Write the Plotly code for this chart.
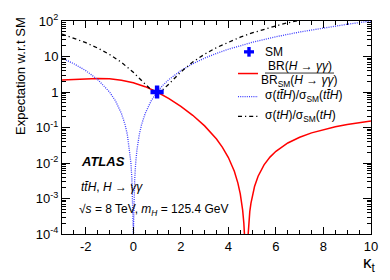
import plotly.graph_objects as go

# ---------------- data ----------------
kt_br = [-3, -2.5, -2, -1.5, -1, -0.5, 0, 0.5, 1, 1.5, 2, 2.5, 3, 3.5, 3.75, 4, 4.25, 4.4, 4.5,
         4.55, 4.6, 4.65, 4.7, 4.8, 4.85, 4.9, 4.95, 5, 5.1, 5.25, 5.5, 5.75, 6, 6.5, 7, 7.5,
         8, 8.5, 9, 9.5, 10]
br_ratio = [2.18, 2.293, 2.382, 2.415, 2.351, 2.154, 1.823, 1.411, 1.0, 0.653, 0.3954, 0.2209,
            0.1111, 0.0473, 0.0277, 0.01429, 0.005834, 0.00272, 0.001343, 0.000846, 0.000468,
            0.0002047, 0.0000504, 0.0000488, 0.000192, 0.000425, 0.000745, 0.001145, 0.002177,
            0.004245, 0.00887, 0.01467, 0.02137, 0.0366, 0.05325, 0.07048, 0.08775, 0.1047,
            0.1211, 0.137, 0.1522]

kt_tth = [-3, -2.5, -2, -1.5, -1, -0.75, -0.5, -0.35, -0.25, -0.15, -0.1, -0.06, -0.03, -0.015,
          -0.008, 0.008, 0.015, 0.03, 0.06, 0.1, 0.15, 0.25, 0.35, 0.5, 0.75, 1, 1.25, 1.5, 1.75,
          2, 2.5, 3, 3.5, 4, 5, 6, 7, 8, 9, 10]
tth_ratio = [9, 6.25, 4, 2.25, 1, 0.5625, 0.25, 0.1225, 0.0625, 0.0225, 0.01, 0.0036, 0.0009,
             0.000225, 0.000064, 0.000064, 0.000225, 0.0009, 0.0036, 0.01, 0.0225, 0.0625,
             0.1225, 0.25, 0.5625, 1, 1.5625, 2.25, 3.0625, 4, 6.25, 9, 12.25, 16, 25, 36, 49,
             64, 81, 100]

kt_th = [-3, -2.5, -2, -1.5, -1, -0.5, -0.25, 0, 0.25, 0.5, 0.75, 1, 1.25, 1.5, 1.75, 2, 2.5,
         3, 3.5, 4, 4.5, 5, 5.5, 6, 6.5, 7, 7.5]
th_ratio = [42.88, 33.05, 24.52, 17.32, 11.42, 6.85, 5.05, 3.58, 2.44, 1.63, 1.15, 1.00, 1.18,
            1.68, 2.52, 3.68, 6.99, 11.62, 17.8, 25.5, 35.0, 46.0, 58.5, 73.0, 89.0, 106.0,
            124.0]

sm_kt = [1]
sm_val = [1]

x_tickvals = [-2, 0, 2, 4, 6, 8, 10]
x_ticktext = ["-2", "0", "2", "4", "6", "8", "10"]
y_tickvals = [1e-4, 1e-3, 1e-2, 1e-1, 1, 10, 100]
y_ticktext = ["10<sup>-4</sup>", "10<sup>-3</sup>", "10<sup>-2</sup>", "10<sup>-1</sup>",
              "1", "10", "10<sup>2</sup>"]
y_minor = [k * 10.0 ** d for d in range(-4, 2) for k in range(2, 10)]

# ---------------- layout helpers ----------------
W, H = 390, 280
L, R, T, B = 62, 19, 13, 46
PW, PH = W - L - R, H - T - B


def px(x):
    return (x - L) / PW


def py(y):
    return (H - B - y) / PH


FONT = "Liberation Sans, Arial, sans-serif"
BLUE_DOT = dict(color="#3b3bff", width=1.3, dash="1px,1.2px")
BLACK_DD = dict(color="black", width=1.3, dash="4px,3px,1.2px,3px")

fig = go.Figure()
fig.add_trace(go.Scatter(x=kt_br, y=br_ratio, mode="lines",
                         line=dict(color="#ff0000", width=1.5), showlegend=False))
fig.add_trace(go.Scatter(x=kt_tth, y=tth_ratio, mode="lines",
                         line=BLUE_DOT, showlegend=False))
fig.add_trace(go.Scatter(x=kt_th, y=th_ratio, mode="lines",
                         line=BLACK_DD, showlegend=False))
fig.add_trace(go.Scatter(x=sm_kt, y=sm_val, mode="markers",
                         marker=dict(symbol="cross", size=11, color="#0000ff",
                                     line=dict(width=0)), showlegend=False))

shapes = []
# legend: SM cross
shapes.append(dict(type="rect", xref="paper", yref="paper", x0=px(244), x1=px(254),
                   y0=py(46.7), y1=py(43.3), fillcolor="#0000ff", line=dict(width=0)))
shapes.append(dict(type="rect", xref="paper", yref="paper", x0=px(247.3), x1=px(250.7),
                   y0=py(50), y1=py(40), fillcolor="#0000ff", line=dict(width=0)))
# legend lines
shapes.append(dict(type="line", xref="paper", yref="paper", x0=px(238), x1=px(258),
                   y0=py(67.5), y1=py(67.5), line=dict(color="#ff0000", width=1.5)))
shapes.append(dict(type="line", xref="paper", yref="paper", x0=px(238), x1=px(258),
                   y0=py(91.5), y1=py(91.5), line=BLUE_DOT))
shapes.append(dict(type="line", xref="paper", yref="paper", x0=px(238), x1=px(258),
                   y0=py(112), y1=py(112), line=BLACK_DD))
# fraction bar
shapes.append(dict(type="line", xref="paper", yref="paper", x0=px(265), x1=px(334),
                   y0=py(67), y1=py(67), line=dict(color="black", width=0.8)))

ann = []


def text(x, y, s, size=12, xanchor="left", **kw):
    ann.append(dict(x=px(x), y=py(y), xref="paper", yref="paper", text=s, showarrow=False,
                    xanchor=xanchor, yanchor="middle", font=dict(family=FONT, size=size,
                                                                  color="black"), **kw))


text(263, 45, "SM")
text(299.5, 59.5, "BR(<i>H</i> → <i>γγ</i>)", xanchor="center")
text(299.5, 75, "BR<sub>SM</sub>(<i>H</i> → <i>γγ</i>)", xanchor="center")
text(263, 91, "σ(<i>tt\u0304H</i>)/σ<sub>SM</sub>(<i>tt\u0304H</i>)")
text(263, 112, "σ(<i>tH</i>)/σ<sub>SM</sub>(<i>tH</i>)")
text(79, 159, "<b><i>ATLAS</i></b>", size=13)
text(79, 185, "<i>tt\u0304H</i>, <i>H</i> → <i>γγ</i>")
text(77, 209, "√<i>s</i> = 8 TeV, <i>m<sub>H</sub></i> = 125.4 GeV")
text(369, 265, "κ<sub>t</sub>", size=17, xanchor="center")
text(21, 70, "Expectation w.r.t SM", size=13, xanchor="center", textangle=-90)

fig.update_layout(
    width=W, height=H, margin=dict(l=L, r=R, t=T, b=B),
    paper_bgcolor="white", plot_bgcolor="white",
    font=dict(family=FONT, size=12, color="black"),
    shapes=shapes, annotations=ann, showlegend=False,
    xaxis=dict(range=[-3, 10], tickmode="array", tickvals=x_tickvals, ticktext=x_ticktext,
               ticks="inside", ticklen=7, tickcolor="black", showline=True, linecolor="black",
               linewidth=1, mirror="allticks", showgrid=False, zeroline=False,
               tickfont=dict(size=13),
               minor=dict(tickmode="linear", tick0=0, dtick=0.5, ticks="inside", ticklen=4,
                          tickcolor="black", showgrid=False)),
    yaxis=dict(type="log", range=[-4, 2], tickmode="array", tickvals=y_tickvals,
               ticktext=y_ticktext, ticks="inside", ticklen=8, tickcolor="black",
               showline=True, linecolor="black", linewidth=1, mirror="allticks",
               showgrid=False, zeroline=False, tickfont=dict(size=13),
               minor=dict(tickmode="array", tickvals=y_minor, ticks="inside", ticklen=4,
                          tickcolor="black", showgrid=False)),
)

fig.write_html("out.html", config={"displayModeBar": False},
               post_script="document.body.style.margin='0';document.body.style.padding='0';")
